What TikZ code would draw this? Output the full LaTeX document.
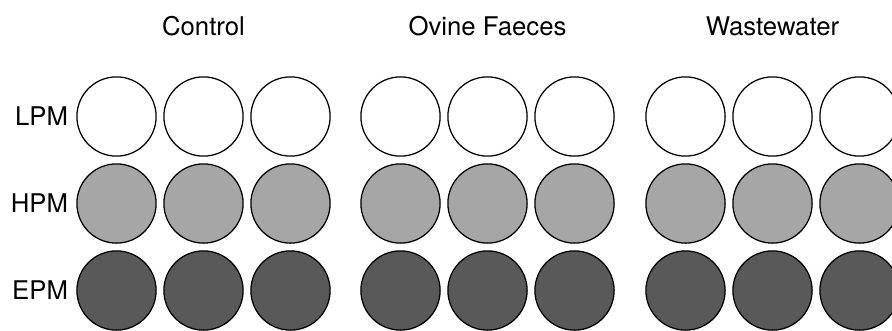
\documentclass[tikz,border=0pt]{standalone}
\usepackage{fontspec}
\setmainfont{TeX Gyre Heros}
\usepackage{xcolor}
\usepackage{tikz}
\usetikzlibrary{positioning}

\definecolor{hpmgray}{HTML}{A6A6A6}
\definecolor{epmgray}{HTML}{595959}

\begin{document}
\begin{tikzpicture}[
  x=0.025cm, y=-0.025cm,
  well/.style={draw, circle, line width=0.9pt, minimum size=1.98cm, inner sep=0pt},
  rowlab/.style={inner sep=0pt, font=\fontsize{18.3}{21}\selectfont},
  grplab/.style={inner sep=0pt, font=\fontsize{18.3}{21}\selectfont}
]
  \useasboundingbox (0,0) rectangle (892,330);

  % wells: rows x groups x replicates
  \foreach \r/\fc/\y in {lpm/white/116.5, hpm/hpmgray/203.5, epm/epmgray/290.5} {
    \foreach \g/\gx in {1/116.5, 2/400.5, 3/685.5} {
      \foreach \i in {0,1,2}
        \node[well, fill=\fc] (\r-\g-\i) at ({\gx+87*\i}, \y) {};
    }
  }

  % row labels
  \node[rowlab, left=0.2cm of lpm-1-0] (lpm) {LPM};
  \node[rowlab, left=0.2cm of hpm-1-0] (hpm) {HPM};
  \node[rowlab, left=0.2cm of epm-1-0] (epm) {EPM};

  % group headers
  \node[grplab, above=1cm of lpm-1-1] (control) {Control};
  \node[grplab, above=1cm of lpm-2-1] (ovine) {Ovine Faeces};
  \node[grplab, above=1cm of lpm-3-1] (waste) {Wastewater};
\end{tikzpicture}
\end{document}
